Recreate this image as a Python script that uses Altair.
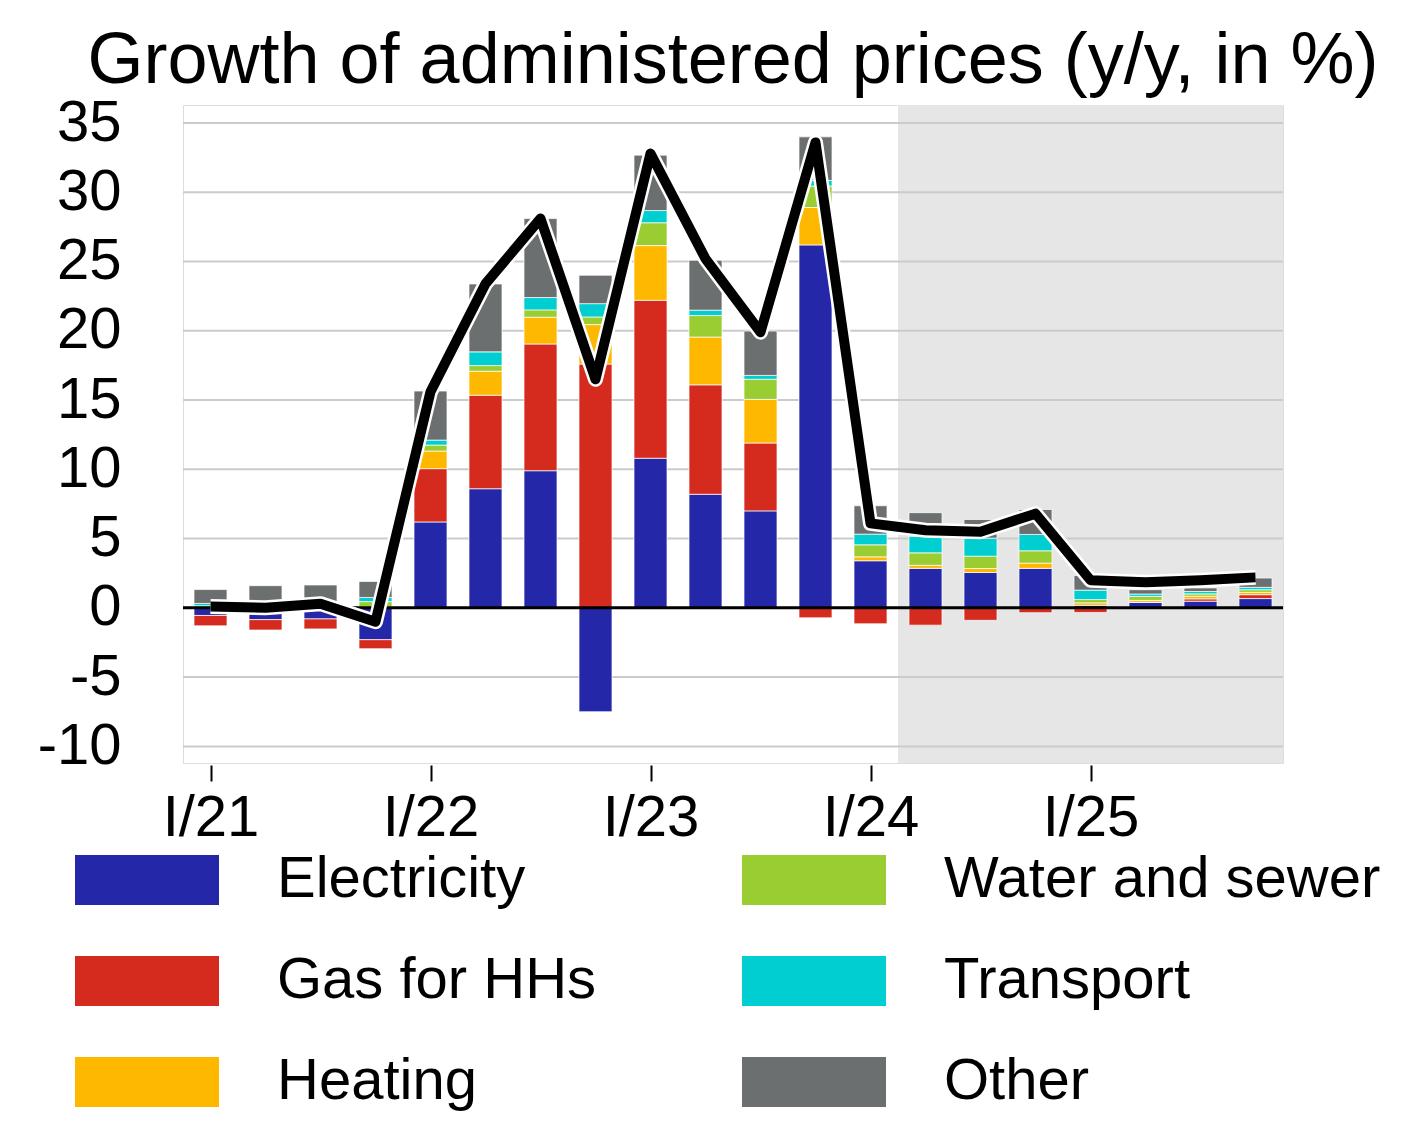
import json
import altair as alt
import pandas as pd

# ---- data ----
quarters = ["I/21", "II/21", "III/21", "IV/21", "I/22", "II/22", "III/22", "IV/22",
            "I/23", "II/23", "III/23", "IV/23", "I/24", "II/24", "III/24", "IV/24",
            "I/25", "II/25", "III/25", "IV/25"]

electricity = [-0.55, -0.85, -0.8, -2.3, 6.2, 8.6, 9.9, -7.5, 10.8, 8.2, 7.0, 26.2,
               3.4, 2.85, 2.55, 2.85, 0.18, 0.4, 0.48, 0.67]
gas = [-0.75, -0.75, -0.72, -0.65, 3.85, 6.75, 9.15, 17.6, 11.4, 7.9, 4.9, -0.72,
       -1.15, -1.25, -0.9, -0.35, -0.33, 0.0, 0.17, 0.28]
heating = [0.0, 0.0, 0.05, 0.05, 1.27, 1.73, 1.93, 2.85, 3.95, 3.45, 3.15, 2.7,
           0.28, 0.22, 0.29, 0.38, 0.18, 0.14, 0.19, 0.17]
water = [0.15, 0.05, 0.1, 0.4, 0.43, 0.41, 0.53, 0.55, 1.65, 1.55, 1.45, 1.55,
         0.87, 0.9, 0.89, 0.89, 0.24, 0.29, 0.17, 0.19]
transport = [0.17, 0.15, 0.2, 0.3, 0.36, 0.99, 0.89, 0.96, 0.88, 0.39, 0.28, 0.4,
             0.77, 1.2, 1.3, 1.18, 0.68, 0.17, 0.17, 0.17]
other = [1.0, 1.4, 1.3, 1.15, 3.54, 4.9, 5.7, 2.05, 4.0, 3.6, 3.2, 3.15,
         2.05, 1.7, 1.35, 1.8, 1.05, 0.31, 0.26, 0.67]
total = [0.1, 0.0, 0.3, -1.0, 15.6, 23.4, 28.1, 16.5, 32.8, 25.2, 19.9, 33.6,
         6.1, 5.6, 5.5, 6.8, 2.0, 1.85, 2.0, 2.2]

series = ["Electricity", "Gas for HHs", "Heating", "Water and sewer", "Transport", "Other"]
series_values = [electricity, gas, heating, water, transport, other]
series_colors = ["#2428a8", "#d52b1e", "#ffb800", "#9acd32", "#00ced1", "#6c6f70"]

y_ticks = [-10, -5, 0, 5, 10, 15, 20, 25, 30, 35]
y_min, y_max = -11.2, 36.3
x_min, x_max = -0.5, 19.5
forecast_start, forecast_end = 12.5, 19.5
x_tick_idx = [0, 4, 8, 12, 16]
x_tick_labels = [quarters[i] for i in x_tick_idx]

# ---- tables ----
rows = []
for s_i, (name, vals) in enumerate(zip(series, series_values)):
    for q_i, v in enumerate(vals):
        rows.append({"q": q_i, "quarter": quarters[q_i], "series": name, "value": v, "ord": s_i})
bars_df = pd.DataFrame(rows)
line_df = pd.DataFrame({"q": list(range(len(quarters))), "quarter": quarters, "total": total})
shade_df = pd.DataFrame({"x1": [forecast_start], "x2": [forecast_end], "y1": [y_min], "y2": [y_max]})
grid_df = pd.DataFrame({"v": y_ticks})
zero_df = pd.DataFrame({"v": [0]})

FONT = "Liberation Sans"
xscale = alt.Scale(domain=[x_min, x_max], nice=False, zero=False, padding=0)
yscale = alt.Scale(domain=[y_min, y_max], nice=False, zero=False, padding=0)

label_expr = "%s[round(datum.value/4)]" % json.dumps(x_tick_labels)

x_axis = alt.Axis(values=x_tick_idx, labelExpr=label_expr, grid=False, domain=False,
                  ticks=True, tickSize=16, tickColor="black", tickWidth=2, offset=2,
                  labelFontSize=58, labelFont=FONT, labelColor="black", labelPadding=8,
                  title=None, labelFlush=False, labelOverlap=False)
y_axis = alt.Axis(values=y_ticks, labelExpr="'' + datum.value", grid=False, domain=False, ticks=False,
                  labelFontSize=58, labelFont=FONT, labelColor="black", labelPadding=62,
                  title=None, labelFlush=False, labelOverlap=False)


def X(field):
    return alt.X(field, scale=xscale, axis=x_axis, title=None)


def Y(field, **kw):
    return alt.Y(field, scale=yscale, axis=y_axis, title=None, **kw)


shade = alt.Chart(shade_df).mark_rect(color="#e6e6e6").encode(
    x=X("x1:Q"), x2="x2:Q", y=Y("y1:Q"), y2="y2:Q")

grid = alt.Chart(grid_df).mark_rule(color="#cbcbcb", strokeWidth=2).encode(y=Y("v:Q"))

# wide flat rectangle centred on the label
legend_symbol = "M-1,-0.347H1V0.347H-1Z"

bars = alt.Chart(bars_df).mark_bar(size=33, stroke="white", strokeWidth=1, strokeOpacity=0.7).encode(
    x=X("q:Q"),
    y=Y("value:Q", stack="zero"),
    color=alt.Color("series:N", scale=alt.Scale(domain=series, range=series_colors),
                    legend=alt.Legend(orient="none", legendX=-108, legendY=703, columns=2,
                                      direction="vertical",
                                      symbolType=legend_symbol, symbolSize=20736,
                                      symbolStrokeWidth=0, symbolOpacity=1,
                                      labelFontSize=58, labelFont=FONT, labelColor="black",
                                      labelOffset=58, rowPadding=0, columnPadding=145,
                                      title=None, padding=0, labelLimit=0)),
    order=alt.Order("ord:Q", sort="ascending"),
)

zero = alt.Chart(zero_df).mark_rule(color="black", strokeWidth=3).encode(y=Y("v:Q"))

line_halo = alt.Chart(line_df).mark_line(color="white", strokeWidth=15, strokeJoin="round", strokeCap="butt").encode(
    x=X("q:Q"), y=Y("total:Q"))
line = alt.Chart(line_df).mark_line(color="black", strokeWidth=10, strokeJoin="round", strokeCap="butt").encode(
    x=X("q:Q"), y=Y("total:Q"))

chart = alt.layer(shade, grid, bars, zero, line_halo, line).properties(
    width=1100, height=658,
    padding={"left": 175, "top": 97, "right": 117, "bottom": 350},
    autosize=alt.AutoSizeParams(type="none"),
    title=alt.Title("Growth of administered prices (y/y, in %)", fontSize=72, font=FONT,
                    fontWeight="normal", color="black", anchor="middle", frame="group", offset=-4),
).configure_view(strokeWidth=0, stroke="transparent").configure(background="white")

chart.save("out.html", embed_options={"renderer": "svg", "actions": False})
